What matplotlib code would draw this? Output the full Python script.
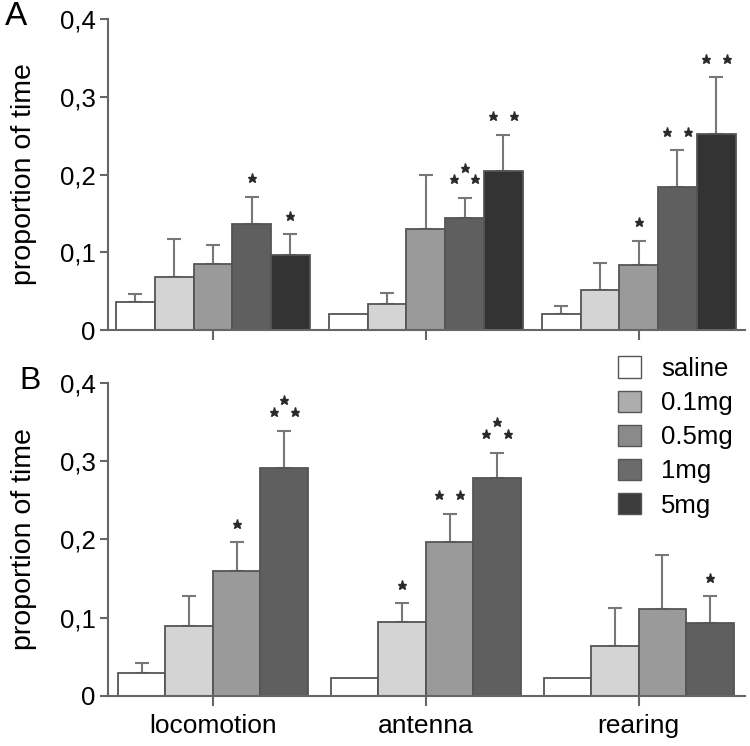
import numpy as np
import matplotlib
matplotlib.use("Agg")
import matplotlib.pyplot as plt
from matplotlib.patches import Patch
from matplotlib.ticker import FuncFormatter

plt.rcParams['font.family'] = ['Liberation Sans', 'DejaVu Sans']

categories = ['locomotion', 'antenna', 'rearing']
doses = ['saline', '0.1mg', '0.5mg', '1mg', '5mg']

# panel A: mean proportion of time (one list per dose, over categories)
a_saline = [0.036, 0.020, 0.020]
a_01mg = [0.068, 0.033, 0.052]
a_05mg = [0.085, 0.130, 0.083]
a_1mg = [0.137, 0.144, 0.184]
a_5mg = [0.097, 0.204, 0.252]
# panel A: upper error
a_saline_err = [0.010, 0.0, 0.011]
a_01mg_err = [0.049, 0.015, 0.034]
a_05mg_err = [0.025, 0.070, 0.032]
a_1mg_err = [0.034, 0.026, 0.047]
a_5mg_err = [0.026, 0.047, 0.073]

# panel B (no 5mg group)
b_saline = [0.029, 0.023, 0.023]
b_01mg = [0.089, 0.094, 0.063]
b_05mg = [0.159, 0.196, 0.111]
b_1mg = [0.291, 0.279, 0.093]
b_saline_err = [0.013, 0.0, 0.0]
b_01mg_err = [0.039, 0.024, 0.049]
b_05mg_err = [0.037, 0.037, 0.069]
b_1mg_err = [0.048, 0.032, 0.034]

# significance marks: (category, dose, number of stars)
a_stars = [(0, 3, 1), (0, 4, 1), (1, 3, 3), (1, 4, 2), (2, 2, 1), (2, 3, 2), (2, 4, 2)]
b_stars = [(0, 2, 1), (0, 3, 3), (1, 1, 1), (1, 2, 2), (1, 3, 3), (2, 3, 1)]

bar_colors = ['white', '#d4d4d4', '#9a9a9a', '#5f5f5f', '#333333']
legend_colors = ['white', '#adadad', '#8a8a8a', '#6b6b6b', '#3c3c3c']
edge = '#555555'
axis_col = '#666666'


def draw_panel(ax, means, errs, stars, bar_w):
    x = np.arange(len(categories))
    n = len(means)
    start = -n * bar_w / 2 + bar_w / 2
    for i, (m, e) in enumerate(zip(means, errs)):
        pos = x + start + i * bar_w
        ax.bar(pos, m, width=bar_w, color=bar_colors[i], edgecolor=edge,
               linewidth=1.3, zorder=2)
        e = np.array(e)
        mask = e > 0
        ax.errorbar(pos[mask], np.array(m)[mask], yerr=[np.zeros(mask.sum()), e[mask]],
                    fmt='none', ecolor='#777777', elinewidth=1.5, capsize=5,
                    capthick=1.5, zorder=1)
    for c, d, k in stars:
        px = c + start + d * bar_w
        top = means[d][c] + errs[d][c] + 0.024
        if k == 1:
            xs, ys = [px], [top]
        elif k == 2:
            xs, ys = [px - 0.05, px + 0.05], [top, top]
        else:
            xs, ys = [px - 0.05, px + 0.05, px], [top, top, top + 0.015]
        ax.plot(xs, ys, ls='none', marker='*', ms=6.5, color='#2a2a2a', zorder=3)

    ax.set_xlim(-0.493, 2.498)
    ax.set_ylim(0, 0.4)
    ax.set_yticks([0, 0.1, 0.2, 0.3, 0.4])
    ax.yaxis.set_major_formatter(FuncFormatter(
        lambda v, p: '0' if v == 0 else f'{v:.1f}'.replace('.', ',')))
    ax.set_xticks(x)
    for s in ['top', 'right']:
        ax.spines[s].set_visible(False)
    for s in ['left', 'bottom']:
        ax.spines[s].set_color(axis_col)
        ax.spines[s].set_linewidth(1.5)
    ax.tick_params(axis='y', length=6, width=1.5, color=axis_col, labelsize=18.5, pad=3)
    ax.tick_params(axis='x', length=7, width=1.5, color=axis_col, labelsize=19, pad=6)
    ax.set_ylabel('proportion of time', fontsize=20.5)
    ax.yaxis.set_label_coords(-0.112, 0.5)


fig = plt.figure(figsize=(7.5, 7.46), dpi=100)
ax_a = fig.add_axes([0.144, 0.5576, 0.849, 0.4169])
ax_b = fig.add_axes([0.144, 0.0674, 0.849, 0.4192])

draw_panel(ax_a, [a_saline, a_01mg, a_05mg, a_1mg, a_5mg],
           [a_saline_err, a_01mg_err, a_05mg_err, a_1mg_err, a_5mg_err],
           a_stars, 0.182)
ax_a.set_xticklabels([])

draw_panel(ax_b, [b_saline, b_01mg, b_05mg, b_1mg],
           [b_saline_err, b_01mg_err, b_05mg_err, b_1mg_err],
           b_stars, 0.223)
ax_b.set_xticklabels(categories)

fig.text(0.006, 0.978, 'A', fontsize=24, va='center')
fig.text(0.026, 0.489, 'B', fontsize=23, va='center')

handles = [Patch(facecolor=c, edgecolor=edge, linewidth=1.0) for c in legend_colors]
fig.legend(handles, doses, loc='upper left', bbox_to_anchor=(0.8097, 0.536),
           frameon=False, fontsize=18.5, handlelength=0.9, handleheight=0.9,
           handletextpad=0.8, labelspacing=0.375, borderaxespad=0)

fig.savefig('out.png', dpi=100)
